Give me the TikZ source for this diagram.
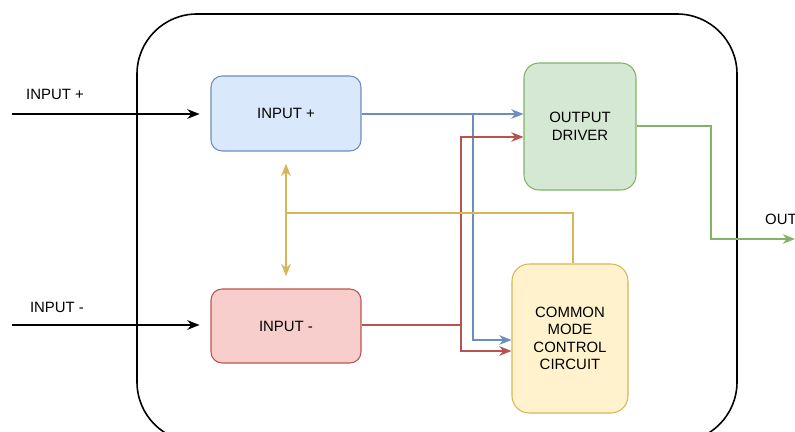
\documentclass[tikz,border=0pt]{standalone}
\usepackage{fontspec}
\usepackage{tikz}
\usepackage{color}
\usetikzlibrary{arrows.meta}
\setmainfont{Liberation Sans}

\definecolor{bluefill}{HTML}{DAE8FC}
\definecolor{blueline}{HTML}{6C8EBF}
\definecolor{redfill}{HTML}{F8CECC}
\definecolor{redline}{HTML}{B85450}
\definecolor{greenfill}{HTML}{D5E8D4}
\definecolor{greenline}{HTML}{82B366}
\definecolor{yellowfill}{HTML}{FFF2CC}
\definecolor{yellowline}{HTML}{D6B656}

\begin{document}
\begin{tikzpicture}[x=0.02cm,y=-0.02cm,
  font=\fontsize{8.5}{10}\selectfont,
  block/.style={draw, line width=0.6pt, align=center, inner sep=0pt},
  wire/.style={line width=0.65pt},
  tip/.style={-{Stealth[length=7pt,width=5.5pt]}}]

\useasboundingbox (0,0) rectangle (795,432);
\clip (0,0) rectangle (795,432);

% outer package outline
\draw[black, line width=0.9pt, rounded corners=1.2cm] (137,14) rectangle (737,442);

% blocks
\node[block, fill=bluefill, draw=blueline, minimum width=3cm, minimum height=1.5cm,
  rounded corners=0.22cm] (inp) at (286,113.5) {INPUT +};
\node[block, fill=redfill, draw=redline, minimum width=3cm, minimum height=1.48cm,
  rounded corners=0.22cm] (inn) at (286,326) {INPUT -};
\node[block, fill=greenfill, draw=greenline, minimum width=2.24cm, minimum height=2.54cm,
  rounded corners=0.3cm] (drv) at (580,126.5) {OUTPUT\\DRIVER};
\node[block, fill=yellowfill, draw=yellowline, minimum width=2.32cm, minimum height=2.98cm,
  rounded corners=0.34cm] (cmc) at (570,338.5) {COMMON\\MODE\\CONTROL\\CIRCUIT};

% pins
\coordinate (pinp) at (12,114);
\coordinate (pinn) at (12,325);
\coordinate (pout) at (795,239);
\node (lblp) at (55,94) {INPUT +};
\node (lbln) at (57,307) {INPUT -};
\node (lblo) at (781,219) {OUT};

\draw[black, line width=0.85pt, tip, shorten >=11pt*0.566] (pinp) -- (inp.west |- pinp);
\draw[black, line width=0.85pt, tip, shorten >=11pt*0.566] (pinn) -- (inn.west |- pinn);

% positive input path
\coordinate (bj) at (473,114);
\draw[blueline, wire, tip] (inp.east |- bj) -- (bj -| drv.west);
\draw[blueline, wire, tip] (bj) -- (473,340) -- (cmc.west |- 0,340);

% negative input path
\coordinate (rj) at (461,325);
\draw[redline, wire] (inn.east |- rj) -- (rj);
\draw[redline, wire, tip] (rj) -- (461,137) -- (drv.west |- 0,137);
\draw[redline, wire, tip] (rj) -- (461,351) -- (cmc.west |- 0,351);

% common mode feedback
\coordinate (yj) at (286,213);
\draw[yellowline, wire, {Stealth[length=7pt,width=5.5pt]}-{Stealth[length=7pt,width=5.5pt]},
  shorten <=7pt, shorten >=7pt] (inp.south) -- (inn.north);
\draw[yellowline, wire] (yj) -- (573,213) -- (cmc.north -| 573,0);

% output
\coordinate (gj) at (711,126);
\draw[greenline, wire, tip] (drv.east |- gj) -- (gj) -- (711,239) -- (pout);

\end{tikzpicture}
\end{document}
